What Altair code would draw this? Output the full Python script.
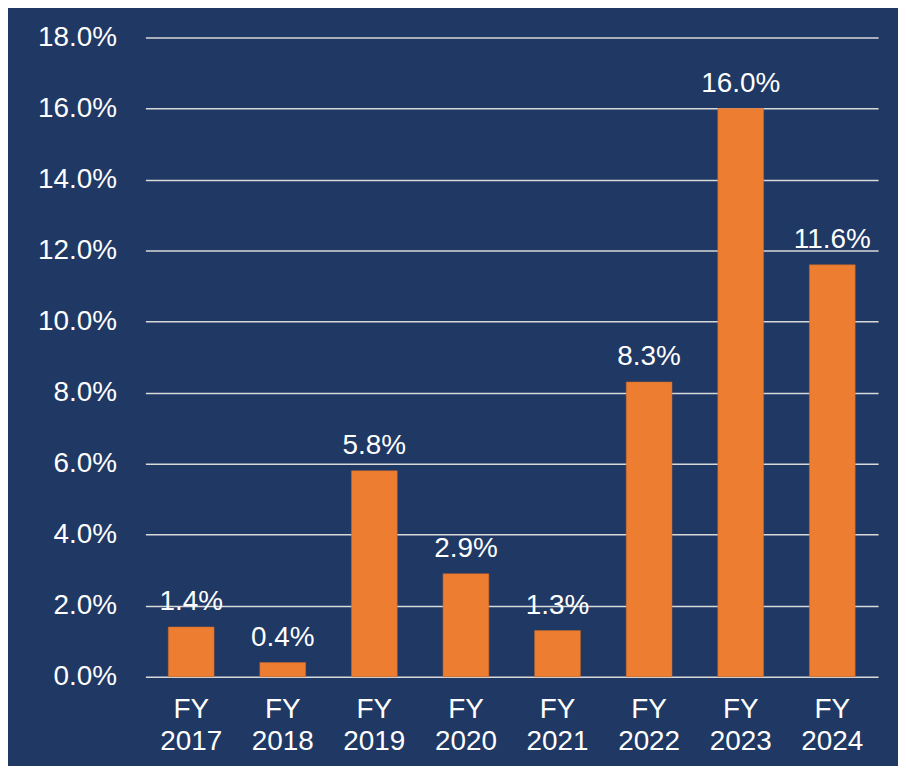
import altair as alt
import pandas as pd

categories = ["FY 2017", "FY 2018", "FY 2019", "FY 2020", "FY 2021", "FY 2022", "FY 2023", "FY 2024"]
values = [1.4, 0.4, 5.8, 2.9, 1.3, 8.3, 16.0, 11.6]
labels = ["1.4%", "0.4%", "5.8%", "2.9%", "1.3%", "8.3%", "16.0%", "11.6%"]
y_ticks = [0, 2, 4, 6, 8, 10, 12, 14, 16, 18]

df = pd.DataFrame({"cat": categories, "val": [v / 100 for v in values], "label": labels})

FONT = "Liberation Sans"

x = alt.X("cat:N", sort=categories, title=None,
          scale=alt.Scale(paddingInner=0.5, paddingOuter=0.25),
          axis=alt.Axis(labelExpr="split(datum.label, ' ')", labelAngle=0,
                        labelFontSize=28, labelColor="white", labelFont=FONT,
                        labelLineHeight=32, labelPadding=19, ticks=False,
                        domain=False, labelBaseline="top"))
y = alt.Y("val:Q", title=None,
          scale=alt.Scale(domain=[0, 0.18], nice=False),
          axis=alt.Axis(values=[t / 100 for t in y_ticks], format=".1%",
                        labelFontSize=28, labelColor="white", labelFont=FONT,
                        labelPadding=29, ticks=False, domain=False,
                        grid=True, gridColor="#D9D9D9", gridWidth=1.5))

bars = alt.Chart(df).mark_bar(color="#ED7D31", stroke="#C96A2A", strokeWidth=0.5).encode(x=x, y=y)
text = alt.Chart(df).mark_text(dy=-17, baseline="alphabetic", fontSize=28, color="white", font=FONT).encode(
    x=alt.X("cat:N", sort=categories), y="val:Q", text="label:N")

chart = alt.layer(bars, text).properties(
    width=736, height=642,
    background="#203864",
    padding={"left": 138, "top": 28, "right": 20, "bottom": 88},
    autosize=alt.AutoSizeParams(type="none"),
).configure_view(stroke=None)

chart.save("out.html", embed_options={"renderer": "svg", "actions": False})
